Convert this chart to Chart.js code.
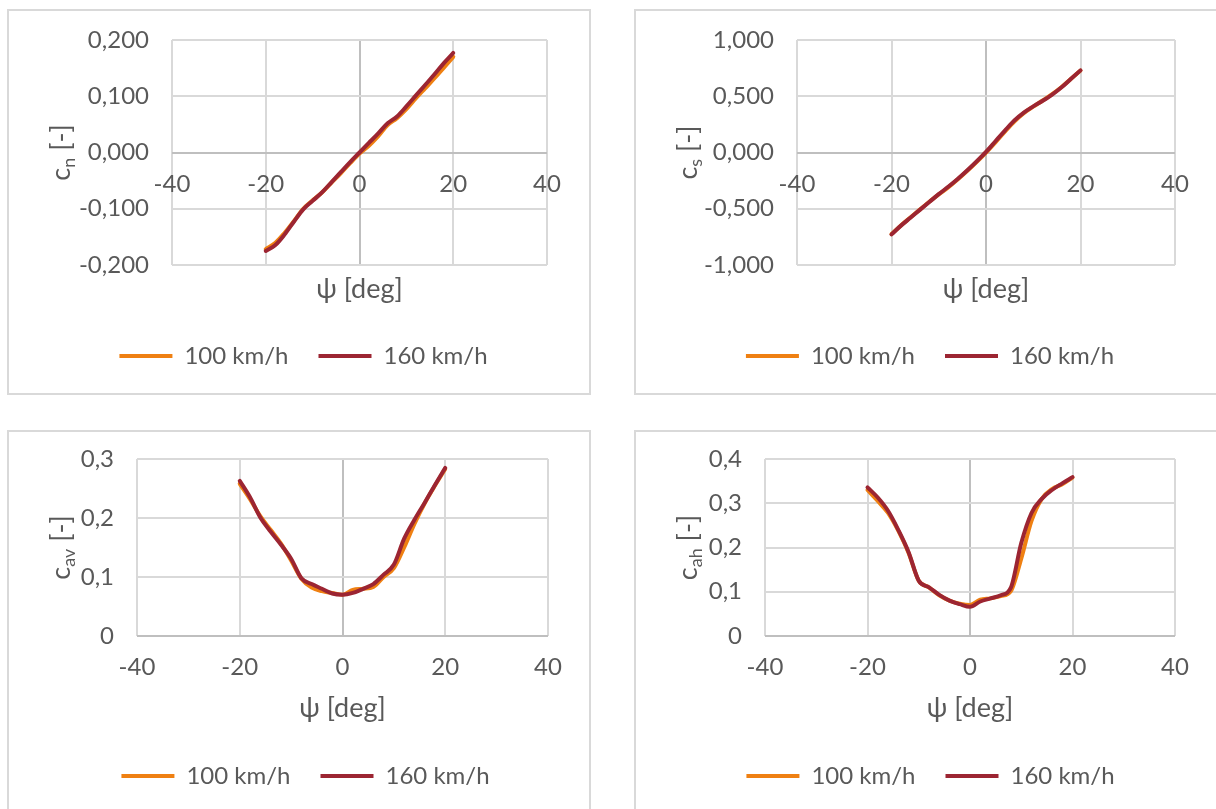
<!DOCTYPE html>
<html>
<head>
<meta charset="utf-8">
<title>Aerodynamic coefficients vs. yaw angle</title>
<script src="https://cdn.jsdelivr.net/npm/chart.js@4.4.1/dist/chart.umd.min.js"></script>
<style>
  html, body { margin: 0; padding: 0; background: #ffffff; }
  body { width: 1216px; height: 809px; position: relative; overflow: hidden; }
  .panel { position: absolute; width: 584px; height: 386px; background: #ffffff; }
  .panel canvas { position: absolute; left: 0; top: 0; }
  .frame { position: absolute; left: 0; top: 0; width: 584px; height: 386px;
           border: 2px solid #d9d9d9; box-sizing: border-box; pointer-events: none; }
</style>
</head>
<body>
<div class="panel" style="left:7px;top:9px"><canvas id="cn" width="584" height="386"></canvas><div class="frame"></div></div>
<div class="panel" style="left:634px;top:9px"><canvas id="cs" width="584" height="386"></canvas><div class="frame"></div></div>
<div class="panel" style="left:7px;top:430px"><canvas id="cav" width="584" height="386"></canvas><div class="frame"></div></div>
<div class="panel" style="left:634px;top:430px"><canvas id="cah" width="584" height="386"></canvas><div class="frame"></div></div>

<script>
// Yaw angle ψ [deg]
const psi = [-20, -18, -16, -14, -12, -10, -8, -6, -4, -2, 0, 2, 4, 6, 8, 10, 12, 14, 16, 18, 20];

// Yawing moment coefficient c_n
const cn100 = [-0.172, -0.161, -0.143, -0.122, -0.100, -0.085, -0.071, -0.054, -0.037, -0.019, -0.002, 0.012, 0.029, 0.049, 0.061, 0.077, 0.096, 0.114, 0.132, 0.151, 0.170];
const cn160 = [-0.175, -0.165, -0.146, -0.123, -0.101, -0.086, -0.071, -0.053, -0.035, -0.017, 0.000, 0.017, 0.034, 0.052, 0.064, 0.082, 0.101, 0.120, 0.139, 0.159, 0.177];

// Side force coefficient c_s
const cs100 = [-0.725, -0.648, -0.578, -0.508, -0.438, -0.372, -0.310, -0.240, -0.165, -0.085, 0.000, 0.090, 0.185, 0.275, 0.350, 0.408, 0.462, 0.518, 0.582, 0.655, 0.728];
const cs160 = [-0.728, -0.650, -0.580, -0.510, -0.440, -0.370, -0.305, -0.235, -0.160, -0.080, 0.005, 0.100, 0.195, 0.285, 0.355, 0.410, 0.460, 0.515, 0.580, 0.655, 0.730];

// Front axle lift coefficient c_av
const cav100 = [0.258, 0.232, 0.203, 0.180, 0.157, 0.128, 0.097, 0.082, 0.076, 0.073, 0.070, 0.078, 0.080, 0.083, 0.100, 0.115, 0.150, 0.190, 0.225, 0.255, 0.283];
const cav160 = [0.263, 0.235, 0.201, 0.177, 0.155, 0.131, 0.098, 0.088, 0.080, 0.072, 0.070, 0.073, 0.080, 0.088, 0.104, 0.121, 0.165, 0.197, 0.226, 0.256, 0.285];

// Rear axle lift coefficient c_ah
const cah100 = [0.330, 0.305, 0.278, 0.238, 0.188, 0.125, 0.110, 0.092, 0.080, 0.073, 0.070, 0.082, 0.085, 0.090, 0.102, 0.175, 0.260, 0.310, 0.332, 0.343, 0.358];
const cah160 = [0.336, 0.313, 0.283, 0.240, 0.190, 0.125, 0.110, 0.093, 0.080, 0.072, 0.066, 0.078, 0.085, 0.092, 0.110, 0.210, 0.278, 0.310, 0.330, 0.345, 0.359];

// Tick values
const xTicks = [-40, -20, 0, 20, 40];
const cnTicks = [-0.2, -0.1, 0, 0.1, 0.2];
const csTicks = [-1, -0.5, 0, 0.5, 1];
const cavTicks = [0, 0.1, 0.2, 0.3];
const cahTicks = [0, 0.1, 0.2, 0.3, 0.4];

const seriesLabels = ['100 km/h', '160 km/h'];
const xTitle = 'ψ [deg]';

const FONT = 'Lato, "Open Sans", "DejaVu Sans", sans-serif';
const TEXT = '#595959';
const GRID = '#d9d9d9';
const AXIS = '#bfbfbf';
const ORANGE = '#ef8012';
const RED = '#9c2532';
const TICK_SIZE = 24;
const TITLE_SIZE = 27;

const pairs = (xs, ys) => xs.map((x, i) => ({ x, y: ys[i] }));
const fmt3 = v => (Math.abs(v) < 1e-9 ? '0,000' : v.toFixed(3).replace('.', ','));
const fmt1 = v => (Math.abs(v) < 1e-9 ? '0' : v.toFixed(1).replace('.', ','));
const gridColor = c => (c.tick && Math.abs(c.tick.value) < 1e-9 ? AXIS : GRID);

// Rotated y-axis title with a subscripted symbol, e.g. c_n [-]
const yTitlePlugin = {
  id: 'yTitle',
  afterDraw(chart, args, opts) {
    const { ctx, chartArea } = chart;
    const cx = opts.x;
    const cy = (chartArea.top + chartArea.bottom) / 2;
    const mainFont = `${TITLE_SIZE}px ${FONT}`;
    const subFont = `18px ${FONT}`;
    ctx.save();
    ctx.translate(cx, cy);
    ctx.rotate(-Math.PI / 2);
    ctx.fillStyle = TEXT;
    ctx.textAlign = 'left';
    ctx.textBaseline = 'middle';
    ctx.font = mainFont;
    const w1 = ctx.measureText(opts.symbol).width;
    const w3 = ctx.measureText(opts.unit).width;
    ctx.font = subFont;
    const w2 = ctx.measureText(opts.sub).width;
    let x = -(w1 + w2 + w3) / 2;
    ctx.font = mainFont;
    ctx.fillText(opts.symbol, x, 0);
    x += w1;
    ctx.font = subFont;
    ctx.fillText(opts.sub, x, 8);
    x += w2;
    ctx.font = mainFont;
    ctx.fillText(opts.unit, x, 0);
    ctx.restore();
  }
};

function makePanel(id, p) {
  const line = {
    showLine: true,
    borderWidth: 4,
    pointRadius: 0,
    pointHoverRadius: 0,
    borderCapStyle: 'round',
    borderJoinStyle: 'round',
    cubicInterpolationMode: 'monotone'
  };
  return new Chart(document.getElementById(id), {
    type: 'scatter',
    data: {
      datasets: [
        { label: seriesLabels[0], data: pairs(psi, p.s100), borderColor: ORANGE, backgroundColor: ORANGE, order: 1, ...line },
        { label: seriesLabels[1], data: pairs(psi, p.s160), borderColor: RED, backgroundColor: RED, order: 0, ...line }
      ]
    },
    options: {
      responsive: false,
      animation: false,
      devicePixelRatio: 1,
      events: [],
      layout: { padding: { left: p.padL, right: p.padR, top: p.padT, bottom: p.padB } },
      scales: {
        x: {
          type: 'linear',
          position: { y: 0 },
          min: -40,
          max: 40,
          afterBuildTicks: s => { s.ticks = xTicks.map(v => ({ value: v })); },
          afterFit: s => { s.height = p.xH; },
          grid: { color: gridColor, lineWidth: 2, drawTicks: false },
          border: { display: false },
          ticks: { padding: 17, color: TEXT, font: { family: FONT, size: TICK_SIZE }, maxRotation: 0, callback: v => String(v) },
          title: { display: true, text: xTitle, color: TEXT, font: { family: FONT, size: TITLE_SIZE }, padding: 0 }
        },
        y: {
          type: 'linear',
          position: 'left',
          min: p.yTicks[0],
          max: p.yTicks[p.yTicks.length - 1],
          afterBuildTicks: s => { s.ticks = p.yTicks.map(v => ({ value: v })); },
          afterFit: s => { s.width = p.yW; },
          grid: { color: gridColor, lineWidth: 2, drawTicks: true, tickLength: 23, tickColor: 'rgba(0,0,0,0)' },
          border: { display: false },
          ticks: { padding: 0, color: TEXT, font: { family: FONT, size: TICK_SIZE }, callback: p.fmt }
        }
      },
      plugins: {
        legend: {
          position: 'bottom',
          labels: {
            usePointStyle: true,
            pointStyle: 'line',
            pointStyleWidth: 53,
            padding: 30,
            color: TEXT,
            font: { family: FONT, size: TICK_SIZE },
            sort: (a, b) => a.datasetIndex - b.datasetIndex
          },
          title: { display: true, text: '', padding: { top: p.spacer - 10, bottom: 0 }, font: { size: 10, lineHeight: 1 } }
        },
        tooltip: { enabled: false },
        yTitle: { x: 54, symbol: 'c', sub: p.sub, unit: ' [-]' }
      }
    },
    plugins: [yTitlePlugin]
  });
}

makePanel('cn',  { s100: cn100,  s160: cn160,  yTicks: cnTicks,  fmt: fmt3, sub: 'n',  padL: 53, padR: 44, padT: 31, padB: 17, yW: 112, xH: 153, spacer: 49 });
makePanel('cs',  { s100: cs100,  s160: cs160,  yTicks: csTicks,  fmt: fmt3, sub: 's',  padL: 51, padR: 43, padT: 31, padB: 17, yW: 112, xH: 153, spacer: 49 });
makePanel('cav', { s100: cav100, s160: cav160, yTicks: cavTicks, fmt: fmt1, sub: 'av', padL: 56, padR: 43, padT: 29, padB: 18, yW: 74,  xH: 88,  spacer: 98 });
makePanel('cah', { s100: cah100, s160: cah160, yTicks: cahTicks, fmt: fmt1, sub: 'ah', padL: 52, padR: 43, padT: 29, padB: 18, yW: 79,  xH: 88,  spacer: 98 });
</script>
</body>
</html>
